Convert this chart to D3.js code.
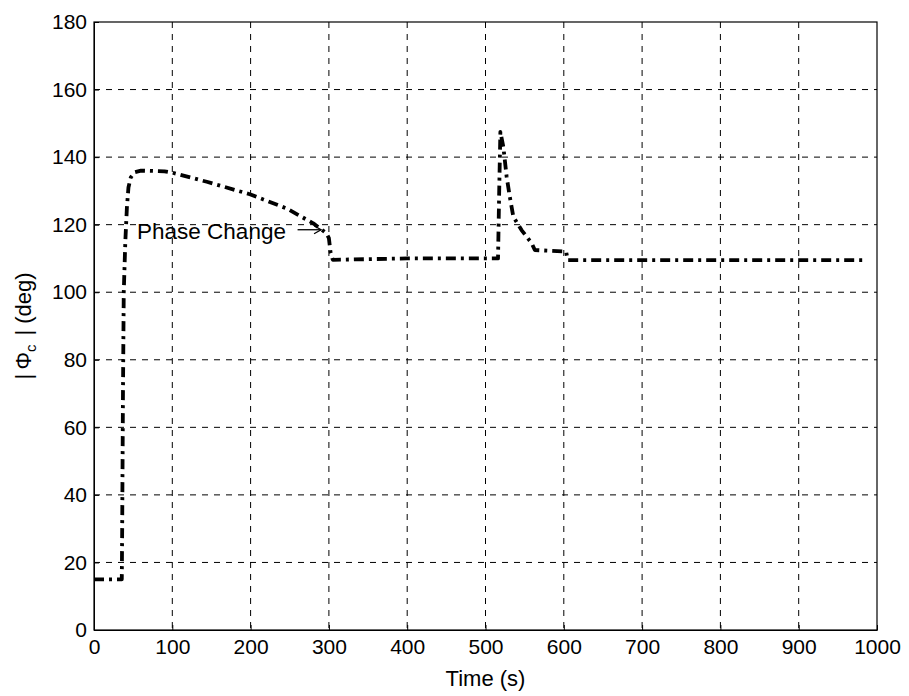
<!DOCTYPE html>
<html>
<head>
<meta charset="utf-8">
<script src="https://cdn.jsdelivr.net/npm/d3@7"></script>
<style>
  body { margin: 0; background: #fff; }
  svg { font-family: "Liberation Sans", Arial, sans-serif; }
</style>
</head>
<body>
<div class="chart"></div>
<script>
// time (s) and |phi_c| (deg)
const time = [0, 35.5, 36, 37, 38, 40, 42, 44, 47, 52, 60, 90, 100, 144, 199, 246, 280, 297, 300, 302, 305,
  400, 500, 516, 517.5, 519, 522.8, 527, 531, 535.5, 546, 559, 563, 603, 605, 985];
const phi = [15, 15, 30, 70, 100, 115, 125, 131, 134, 135.5, 136, 135.8, 135.4, 132.7, 129, 124.8, 120.4, 117.4, 116, 112, 109.6,
  110, 110, 110, 130, 147.5, 143, 134.2, 128.3, 122.4, 118.4, 114.5, 112.5, 112, 109.5, 109.5];

const xTicks = [0, 100, 200, 300, 400, 500, 600, 700, 800, 900, 1000];
const yTicks = [0, 20, 40, 60, 80, 100, 120, 140, 160, 180];

const margin = {top: 22, right: 32, bottom: 66, left: 94};
const width = 909 - margin.left - margin.right;
const height = 696 - margin.top - margin.bottom;

const svg = d3.select('.chart')
  .append('svg')
  .attr('width', 909)
  .attr('height', 696);

const chart = svg.append('g')
  .attr('transform', `translate(${margin.left}, ${margin.top})`);

const x = d3.scaleLinear().domain([0, 1000]).range([0, width]);
const y = d3.scaleLinear().domain([0, 180]).range([height, 0]);

// dashed grid
chart.append('g')
  .selectAll('line')
  .data(xTicks.slice(1, -1))
  .enter()
  .append('line')
  .attr('x1', d => x(d)).attr('x2', d => x(d))
  .attr('y1', 0).attr('y2', height)
  .attr('stroke', '#000').attr('stroke-width', 1)
  .attr('stroke-dasharray', '6,6');

chart.append('g')
  .selectAll('line')
  .data(yTicks.slice(1, -1))
  .enter()
  .append('line')
  .attr('y1', d => y(d)).attr('y2', d => y(d))
  .attr('x1', 0).attr('x2', width)
  .attr('stroke', '#000').attr('stroke-width', 1)
  .attr('stroke-dasharray', '6,6');

// axes, ticks pointing inward
const xAxis = chart.append('g')
  .attr('transform', `translate(0, ${height})`)
  .call(d3.axisBottom(x).tickValues(xTicks).tickFormat(d3.format('d'))
    .tickSizeInner(-5).tickSizeOuter(0).tickPadding(9));
const yAxis = chart.append('g')
  .call(d3.axisLeft(y).tickValues(yTicks).tickFormat(d3.format('d'))
    .tickSizeInner(-5).tickSizeOuter(0).tickPadding(7));

[xAxis, yAxis].forEach(a => {
  a.selectAll('text').attr('font-size', 21).attr('fill', '#000')
    .attr('font-family', '"Liberation Sans", Arial, sans-serif');
  a.selectAll('line').attr('stroke', '#000');
  a.select('.domain').attr('stroke', '#000');
});
xAxis.selectAll('text').attr('dy', '0.71em');

// box
chart.append('rect')
  .attr('width', width).attr('height', height)
  .attr('fill', 'none').attr('stroke', '#000').attr('stroke-width', 1.2);

// the series
const line = d3.line()
  .x((d, i) => x(time[i]))
  .y(d => y(d));

chart.append('path')
  .datum(phi)
  .attr('d', line)
  .attr('fill', 'none')
  .attr('stroke', '#000')
  .attr('stroke-width', 3.8)
  .attr('stroke-linejoin', 'round')
  .attr('stroke-dasharray', '10,5,3,5');

// annotation
chart.append('text')
  .attr('x', x(55)).attr('y', y(115.8))
  .attr('font-size', 22.5)
  .text('Phase Change');
chart.append('line')
  .attr('x1', x(260)).attr('x2', x(290))
  .attr('y1', y(118.5)).attr('y2', y(118.5))
  .attr('stroke', '#000').attr('stroke-width', 1.3);
chart.append('path')
  .attr('d', `M${x(290) - 7},${y(118.5) - 4} L${x(290)},${y(118.5)} L${x(290) - 7},${y(118.5) + 4}`)
  .attr('fill', 'none').attr('stroke', '#000').attr('stroke-width', 1.3);

// axis labels
svg.append('text')
  .attr('x', margin.left + width / 2).attr('y', 686)
  .attr('text-anchor', 'middle')
  .attr('font-size', 22)
  .text('Time (s)');

const yl = svg.append('text')
  .attr('transform', `translate(31, ${margin.top + height / 2}) rotate(-90)`)
  .attr('text-anchor', 'middle')
  .attr('font-size', 22);
yl.append('tspan').text('|\u2009\u03A6');
yl.append('tspan').attr('font-size', 15).attr('dy', 5).text('c');
yl.append('tspan').attr('dy', -5).text('\u2009\u2009| (deg)');
</script>
</body>
</html>
